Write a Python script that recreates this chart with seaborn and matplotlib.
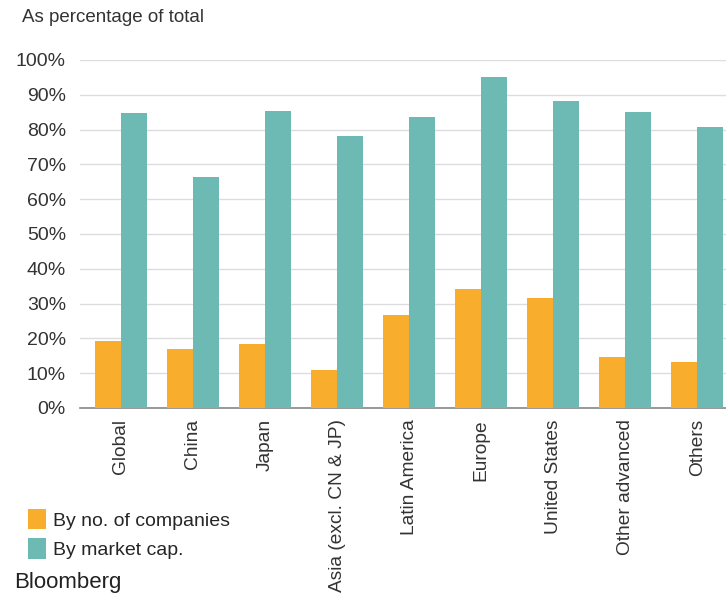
import matplotlib
matplotlib.use("Agg")
import matplotlib.pyplot as plt
import seaborn as sns
import pandas as pd
from matplotlib.patches import Patch

categories = ["Global", "China", "Japan", "Asia (excl. CN & JP)", "Latin America",
              "Europe", "United States", "Other advanced", "Others"]
by_companies = [19.1, 17.0, 18.5, 11.0, 26.6, 34.3, 31.5, 14.6, 13.2]
by_market_cap = [84.7, 66.3, 85.2, 78.2, 83.5, 95.0, 88.1, 85.1, 80.7]
series_names = ["By no. of companies", "By market cap."]
y_ticks = [0, 10, 20, 30, 40, 50, 60, 70, 80, 90, 100]

colors = ["#F8AD2C", "#6DB9B4"]

df = pd.DataFrame({
    "category": categories * 2,
    "value": by_companies + by_market_cap,
    "series": [series_names[0]] * len(categories) + [series_names[1]] * len(categories),
})

sns.set_style("white")
plt.rcParams["font.family"] = ["Liberation Sans", "DejaVu Sans"]

fig = plt.figure(figsize=(7.26, 5.93), dpi=100)
ax = fig.add_axes([0.110, 0.312, 0.890, 0.587])

sns.barplot(data=df, x="category", y="value", hue="series", palette=colors,
            width=0.72, saturation=1, ax=ax, legend=False, zorder=3,
            linewidth=0, edgecolor="none")

ax.set_ylim(0, 100)
ax.set_xlim(-0.57, 8.4)
ax.set_yticks(y_ticks)
ax.set_yticklabels([f"{t}%" for t in y_ticks], fontsize=14, color="#333333")
ax.set_xticks(range(len(categories)))
ax.set_xticklabels(categories, rotation=90, fontsize=13.8, color="#333333")
ax.tick_params(axis="both", length=0)
ax.tick_params(axis="y", pad=10)
ax.tick_params(axis="x", pad=8)
ax.set_xlabel("")
ax.set_ylabel("")
ax.yaxis.grid(True, color="#dddddd", linewidth=1, zorder=0)
for s in ["top", "right", "left"]:
    ax.spines[s].set_visible(False)
ax.spines["bottom"].set_color("#888888")
ax.spines["bottom"].set_linewidth(1.2)
ax.set_axisbelow(True)

fig.text(0.03, 0.970, "As percentage of total", fontsize=13.5, color="#333333",
         va="center", ha="left")

handles = [Patch(facecolor=colors[0], edgecolor="none"),
           Patch(facecolor=colors[1], edgecolor="none")]
fig.legend(handles, series_names, loc="upper left", bbox_to_anchor=(0.028, 0.155),
           frameon=False, fontsize=14, handlelength=0.9, handleheight=1.25,
           handletextpad=0.4, labelspacing=0.45, borderaxespad=0)

fig.text(0.02, 0.0, "Bloomberg", fontsize=16, color="#222222", va="bottom", ha="left")

fig.savefig("out.png", dpi=100)
